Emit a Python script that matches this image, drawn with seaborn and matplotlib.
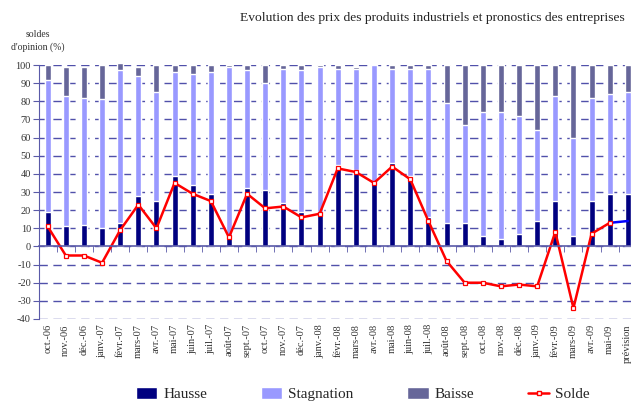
import numpy as np
import pandas as pd
import seaborn as sns
import matplotlib.pyplot as plt
from matplotlib.patches import Patch
from matplotlib.lines import Line2D

# Data
mois = ['oct.-06', 'nov.-06', 'déc.-06', 'janv.-07', 'févr.-07', 'mars-07', 'avr.-07',
        'mai-07', 'juin-07', 'juil.-07', 'août-07', 'sept.-07', 'oct.-07', 'nov.-07',
        'déc.-07', 'janv.-08', 'févr.-08', 'mars-08', 'avr.-08', 'mai-08', 'juin-08',
        'juil.-08', 'août-08', 'sept.-08', 'oct.-08', 'nov.-08', 'déc.-08', 'janv.-09',
        'févr.-09', 'mars-09', 'avr.-09', 'mai-09', 'prévision']
hausse = [19, 11, 12, 10, 13, 28, 25, 39, 34, 29, 6, 32, 31, 24, 19, 19, 45, 42, 35, 46,
          39, 16, 13, 13, 6, 4, 7, 14, 25, 6, 25, 29, 29]
stagnation = [73, 72, 70, 71, 84, 66, 60, 57, 61, 67, 93, 65, 59, 74, 78, 80, 53, 56, 65,
              52, 59, 82, 66, 54, 68, 70, 65, 50, 58, 54, 57, 55, 56]
baisse = [8, 16, 17, 19, 4, 5, 15, 4, 5, 4, 1, 3, 10, 2, 3, 1, 2, 1, 0, 2, 2, 2, 21, 33,
          26, 26, 28, 36, 17, 40, 18, 16, 15]
# solde d'opinion, observed months (oct.-06 .. mai-09)
solde = [11, -5, -5, -9, 9, 23, 10, 35, 29, 25, 5, 29, 21, 22, 16, 18, 43, 41, 35, 44, 37,
         14, -8, -20, -20, -22, -21, -22, 8, -34, 7, 13]
solde_prevision = [13, 14]  # mai-09 -> prévision

col_h = '#000080'
col_s = '#9999FF'
col_b = '#666699'
grid_col = '#5050AA'
serif = 'Liberation Serif'

sns.set_style('white')
plt.rcParams['font.family'] = [serif, 'DejaVu Serif']
plt.rcParams['axes.unicode_minus'] = False

df = pd.DataFrame({'mois': mois, 'hausse': hausse, 'stag': stagnation, 'baisse': baisse})
df['haut_s'] = df['hausse'] + df['stag']
df['total'] = df['haut_s'] + df['baisse']

fig = plt.figure(figsize=(6.31, 4.03), dpi=100)
n = len(mois)
x0 = 38.6 / 631
step = 18.13 / 631
ax = fig.add_axes([x0, 1 - 319 / 403, step * n, (319 - 65) / 403])

# gridlines (behind bars)
for v in range(-40, 101, 10):
    ax.axhline(v, color=grid_col, lw=1.0, ls=(0, (6, 4)), zorder=0)

# stacked bars via overlapping cumulative heights
sns.barplot(data=df, x='mois', y='total', color=col_b, width=0.33, saturation=1,
            ax=ax, zorder=2, clip_on=False)
sns.barplot(data=df, x='mois', y='haut_s', color=col_s, width=0.33, saturation=1,
            ax=ax, zorder=3)
sns.barplot(data=df, x='mois', y='hausse', color=col_h, width=0.33, saturation=1,
            ax=ax, zorder=4)

# solde lines
xs = np.arange(len(solde))
sns.lineplot(x=xs, y=solde, color='#FF0000', lw=1.8, marker='s', markersize=3.5,
             markerfacecolor='white', markeredgecolor='#FF0000', markeredgewidth=0.9,
             ax=ax, zorder=6)
sns.lineplot(x=[n - 2, n - 1], y=solde_prevision, color='#0000FF', lw=1.8, ax=ax, zorder=5)

ax.set_xlim(-0.5, n - 0.5)
ax.set_ylim(-40, 100)
ax.set_xlabel('')
ax.set_ylabel('')
ax.set_yticks(range(-40, 101, 10))

for s in ['top', 'right']:
    ax.spines[s].set_visible(False)
ax.spines['left'].set_color('#5A5AA8')
ax.spines['left'].set_zorder(7)
ax.spines['bottom'].set_position(('data', 0))
ax.spines['bottom'].set_color('#5A5AA8')
ax.spines['bottom'].set_linewidth(1.2)
ax.spines['bottom'].set_zorder(7)

ax.tick_params(axis='y', length=4, color='#5A5AA8', labelsize=7.5, labelcolor='#333333',
               left=True, pad=1.5)
ax.set_xticks(np.arange(n))
ax.set_xticklabels(mois, rotation=90, fontsize=7.5, color='#333333', va='top')
ax.set_xticks(np.arange(n) + 0.5, minor=True)
ax.tick_params(axis='x', which='major', length=0, pad=56)
ax.tick_params(axis='x', which='minor', length=4, color='#5A5AA8', bottom=True)

fig.text(432 / 631, 1 - 18 / 403, 'Evolution des prix des produits industriels et pronostics des entreprises',
         ha='center', va='center', fontsize=9.7, color='#222222')
fig.text(38 / 631, 1 - 41 / 403, "soldes\nd'opinion (%)", ha='center', va='center',
         fontsize=7, color='#333333', linespacing=1.4)

handles = [Patch(facecolor=col_h, label='Hausse'),
           Patch(facecolor=col_s, label='Stagnation'),
           Patch(facecolor=col_b, label='Baisse'),
           Line2D([], [], color='#FF0000', lw=1.8, marker='s', markersize=3.5,
                  markerfacecolor='white', markeredgecolor='#FF0000', label='Solde')]
fig.legend(handles=handles, loc='center', bbox_to_anchor=(363 / 631, 9 / 403), ncol=4,
           frameon=False, fontsize=11, handlelength=1.4, handleheight=0.9,
           columnspacing=3.5, handletextpad=0.4)

fig.savefig('out.png', dpi=100)
